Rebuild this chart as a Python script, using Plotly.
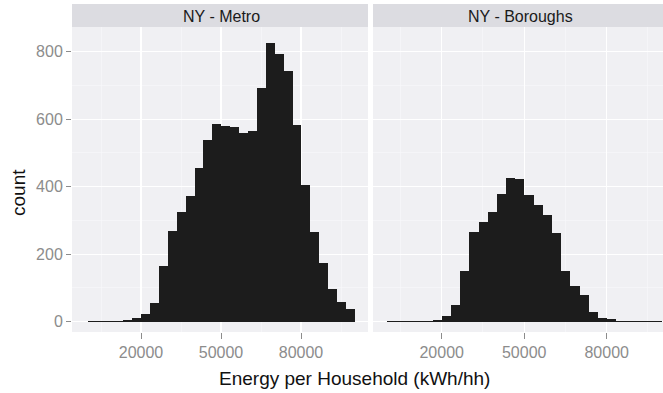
import plotly.graph_objects as go

# ---- data ----
facets = ["NY - Metro", "NY - Boroughs"]
bin_start = 0
bin_width = 3340
metro_counts = [2, 2, 2, 3, 5, 10, 23, 56, 165, 269, 324, 373, 454, 538, 586,
                580, 578, 558, 564, 693, 827, 792, 744, 582, 405, 265, 175, 97, 57, 37]
borough_counts = [1, 1, 1, 2, 3, 5, 17, 49, 150, 267, 296, 326, 378, 427, 423,
                  375, 346, 316, 264, 150, 107, 78, 30, 12, 7, 3, 2, 2, 2, 1]
x_ticks = [20000, 50000, 80000]
x_minor = [5000, 35000, 65000, 95000]
y_ticks = [0, 200, 400, 600, 800]
y_minor = [100, 300, 500, 700]
x_title = "Energy per Household (kWh/hh)"
y_title = "count"

W, H = 663, 393
FONT = "Liberation Sans, Arial, sans-serif"
BG = "#f0f0f3"
STRIP = "#dcdce1"
TICKC = "#8c8c8c"
BAR = "#1c1c1c"

centers_m = [bin_start + (i + 0.5) * bin_width for i in range(len(metro_counts))]
centers_b = [bin_start + (i + 0.5) * bin_width for i in range(len(borough_counts))]

fig = go.Figure()
fig.add_trace(go.Bar(x=centers_m, y=metro_counts, width=bin_width,
                     marker=dict(color=BAR, line=dict(width=0)),
                     xaxis="x", yaxis="y", showlegend=False))
fig.add_trace(go.Bar(x=centers_b, y=borough_counts, width=bin_width,
                     marker=dict(color=BAR, line=dict(width=0)),
                     xaxis="x2", yaxis="y2", showlegend=False))

def px_x(p):
    return p / W

def px_y(p):
    return (H - p) / H

L1, R1 = 72, 368
L2, R2 = 373, 663
TOP, BOT = 27, 332
STOP = 4

xcommon = dict(tickvals=x_ticks, ticktext=[str(v) for v in x_ticks],
               showgrid=True, gridcolor="white", gridwidth=1.3,
               minor=dict(tickvals=x_minor, showgrid=True, gridcolor="#f9f9fb",
                          gridwidth=0.6, ticks=""),
               ticks="outside", ticklen=6, tickcolor=TICKC, tickwidth=1,
               tickfont=dict(family=FONT, size=16, color=TICKC),
               zeroline=False, showline=False, fixedrange=True)
ycommon = dict(range=[-30.5, 873], tickvals=y_ticks,
               showgrid=True, gridcolor="white", gridwidth=1.3,
               minor=dict(tickvals=y_minor, showgrid=True, gridcolor="#f9f9fb",
                          gridwidth=0.6, ticks=""),
               zeroline=False, showline=False, fixedrange=True)

fig.update_layout(
    width=W, height=H,
    margin=dict(l=0, r=0, t=0, b=0),
    paper_bgcolor="white", plot_bgcolor=BG,
    bargap=0,
    font=dict(family=FONT),
    hovermode=False,
    xaxis=dict(domain=[px_x(L1), min(1, px_x(R1))], range=[-5875, 105125], anchor="y", **xcommon),
    xaxis2=dict(domain=[px_x(L2), min(1, px_x(R2))], range=[-4982, 100472], anchor="y2", **xcommon),
    yaxis=dict(domain=[px_y(BOT), px_y(TOP)], anchor="x",
               ticks="outside", ticklen=5, tickcolor=TICKC,
               tickfont=dict(family=FONT, size=16, color=TICKC), **ycommon),
    yaxis2=dict(domain=[px_y(BOT), px_y(TOP)], anchor="x2", matches="y",
                showticklabels=False, ticks="", **ycommon),
    showlegend=False,
)

shapes = []
annotations = []
for (l, r), name in zip([(L1, R1), (L2, R2)], facets):
    shapes.append(dict(type="rect", xref="paper", yref="paper",
                       x0=px_x(l), x1=min(1, px_x(r)), y0=px_y(TOP), y1=px_y(STOP),
                       fillcolor=STRIP, line=dict(width=0), layer="below"))
    annotations.append(dict(text=name, xref="paper", yref="paper",
                            x=px_x((l + r) / 2 + 2), y=px_y((TOP + STOP) / 2 + 1),
                            showarrow=False, xanchor="center", yanchor="middle",
                            font=dict(family=FONT, size=16, color="#1a1a1a")))

annotations.append(dict(text=x_title, xref="paper", yref="paper",
                        x=px_x(354), y=px_y(378), showarrow=False,
                        xanchor="center", yanchor="middle",
                        font=dict(family=FONT, size=19, color="#111111")))
annotations.append(dict(text=y_title, xref="paper", yref="paper",
                        x=px_x(18), y=px_y(193), showarrow=False, textangle=-90,
                        xanchor="center", yanchor="middle",
                        font=dict(family=FONT, size=19, color="#111111")))

fig.update_layout(shapes=shapes, annotations=annotations)
fig.write_html("out.html",
               config={"displayModeBar": False, "staticPlot": True},
               post_script="document.body.style.margin='0';document.body.style.overflow='hidden';")
